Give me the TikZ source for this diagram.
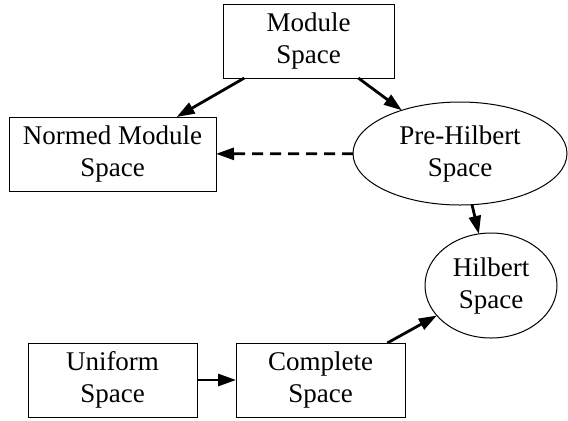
\documentclass[tikz,border=0pt]{standalone}
\usepackage{fontspec}
\setmainfont{Liberation Serif}
\usetikzlibrary{shapes.geometric,arrows.meta}
\begin{document}
\begin{tikzpicture}[x=0.5pt, y=-0.5pt,
    every node/.style={font=\fontsize{13.5}{16}\selectfont, align=center,
                       inner sep=0pt, outer sep=0pt, line width=0.5pt},
    box/.style={draw, rectangle, minimum height=37pt},
    blob/.style={draw, ellipse},
    arr/.style={line width=1.4pt, -{Triangle[length=9pt,width=6pt]}}]
    \useasboundingbox (0,0) rectangle (568,420);
    \draw (308.5,  41) node [box, minimum width=85.5pt] (M) {Module\\ Space}
          (112.5, 154) node [box, minimum width=103.5pt] (N) {Normed Module\\ Space}
          (460, 153.5) node [blob, minimum width=107pt, minimum height=51.5pt] (P) {Pre-Hilbert\\ Space}
          (491, 285.5) node [blob, minimum width=66pt, minimum height=52.5pt] (H) {Hilbert\\ Space}
          (112.5, 380) node [box, minimum width=84.5pt] (U) {Uniform\\ Space}
          (320.5, 380) node [box, minimum width=84.5pt] (C) {Complete\\ Space}
    (M) edge [arr] (N)
        edge [arr] (P)
    (P) edge [arr, dash pattern=on 5.5pt off 3.5pt] (N)
        edge [arr] (H)
    (U) edge [arr] (C)
    (C) edge [arr] (H);
  \end{tikzpicture}
\end{document}
